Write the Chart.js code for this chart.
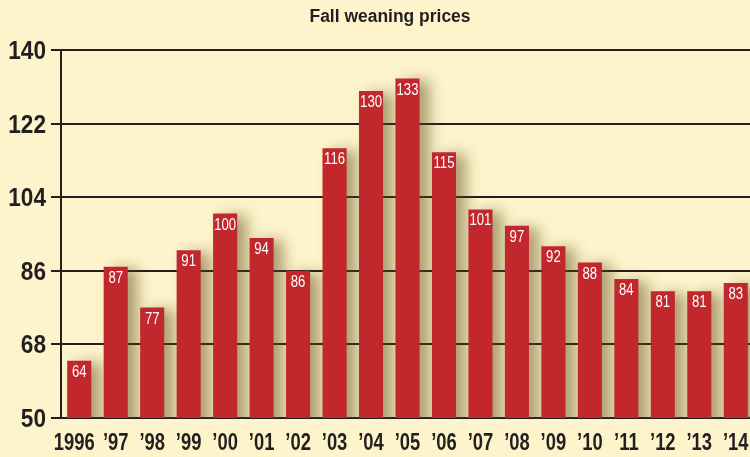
<!DOCTYPE html>
<html lang="en">
<head>
    <meta charset="UTF-8">
    <title>Fall weaning prices</title>
    <script src="https://cdn.jsdelivr.net/npm/chart.js"></script>
    <style>
        html, body { margin: 0; padding: 0; background: #fdf4cc; overflow: hidden; }
        .box { width: 755px; height: 457px; }
    </style>
</head>
<body>
    <div class="box">
        <canvas id="chartPrecos"></canvas>
    </div>

    <script>
        // dados
        const anos = ['1996', '\u201997', '\u201998', '\u201999', '\u201900', '\u201901', '\u201902', '\u201903', '\u201904', '\u201905',
            '\u201906', '\u201907', '\u201908', '\u201909', '\u201910', '\u201911', '\u201912', '\u201913', '\u201914'];
        const precos = [64, 87, 77, 91, 100, 94, 86, 116, 130, 133, 115, 101, 97, 92, 88, 84, 81, 81, 83];
        const yTicks = [50, 68, 86, 104, 122, 140];

        const fonte = "'Liberation Sans', Arial, sans-serif";
        const corTexto = '#231f20';

        // texto "condensado": escala horizontal
        function textoEstreito(ctx, txt, x, y, escala) {
            ctx.save();
            ctx.translate(x, y);
            ctx.scale(escala, 1);
            ctx.fillText(txt, 0, 0);
            ctx.restore();
        }

        // sombra das barras + rotulos desenhados a mao
        const sombra = {
            id: 'sombra',
            beforeDatasetsDraw(chart) {
                const ctx = chart.ctx;
                ctx.save();
                ctx.shadowColor = 'rgba(95, 75, 25, 0.5)';
                ctx.shadowBlur = 14;
                ctx.shadowOffsetX = 10;
                ctx.shadowOffsetY = 2;
            },
            afterDatasetsDraw(chart) {
                const ctx = chart.ctx;
                ctx.restore();
                const meta = chart.getDatasetMeta(0);
                ctx.save();
                // valores dentro das barras
                ctx.fillStyle = '#ffffff';
                ctx.font = '16px ' + fonte;
                ctx.textAlign = 'center';
                ctx.textBaseline = 'alphabetic';
                meta.data.forEach((bar, i) => {
                    textoEstreito(ctx, String(precos[i]), bar.x, bar.y + 16, 0.82);
                });

                ctx.fillStyle = corTexto;
                // eixo x
                ctx.font = 'bold 23px ' + fonte;
                const xs = chart.scales.x;
                anos.forEach((a, i) => {
                    textoEstreito(ctx, a, xs.getPixelForTick(i) - (i === 0 ? 5 : 0), xs.top + 32, 0.8);
                });
                // eixo y
                ctx.textAlign = 'right';
                ctx.font = 'bold 26px ' + fonte;
                const ys = chart.scales.y;
                yTicks.forEach(v => {
                    textoEstreito(ctx, String(v), 46, ys.getPixelForValue(v) + 9, 0.87);
                });
                // titulo
                ctx.textAlign = 'center';
                ctx.font = 'bold 18px ' + fonte;
                textoEstreito(ctx, 'Fall weaning prices', 390, 22, 0.97);
                ctx.restore();
            }
        };

        const ctxPrecos = document.getElementById('chartPrecos').getContext('2d');
        const chartPrecos = new Chart(ctxPrecos, {
            type: 'bar',
            data: {
                labels: anos,
                datasets: [{
                    data: precos,
                    backgroundColor: '#c1272d',
                    borderWidth: 0,
                    categoryPercentage: 1,
                    barPercentage: 0.66
                }]
            },
            options: {
                responsive: true,
                maintainAspectRatio: false,
                animation: false,
                layout: { padding: { top: 50, right: 1, left: 51, bottom: 31 } },
                plugins: {
                    legend: { display: false },
                    tooltip: { enabled: false }
                },
                scales: {
                    x: {
                        grid: { display: false },
                        border: { display: true, color: corTexto, width: 2 },
                        ticks: { display: false, autoSkip: false }
                    },
                    y: {
                        min: 50,
                        max: 140,
                        afterBuildTicks: (scale) => { scale.ticks = yTicks.map(v => ({ value: v })); },
                        grid: { color: corTexto, lineWidth: 2, tickLength: 10 },
                        border: { display: true, color: corTexto, width: 2 },
                        ticks: { display: false }
                    }
                }
            },
            plugins: [sombra]
        });
    </script>
</body>
</html>
